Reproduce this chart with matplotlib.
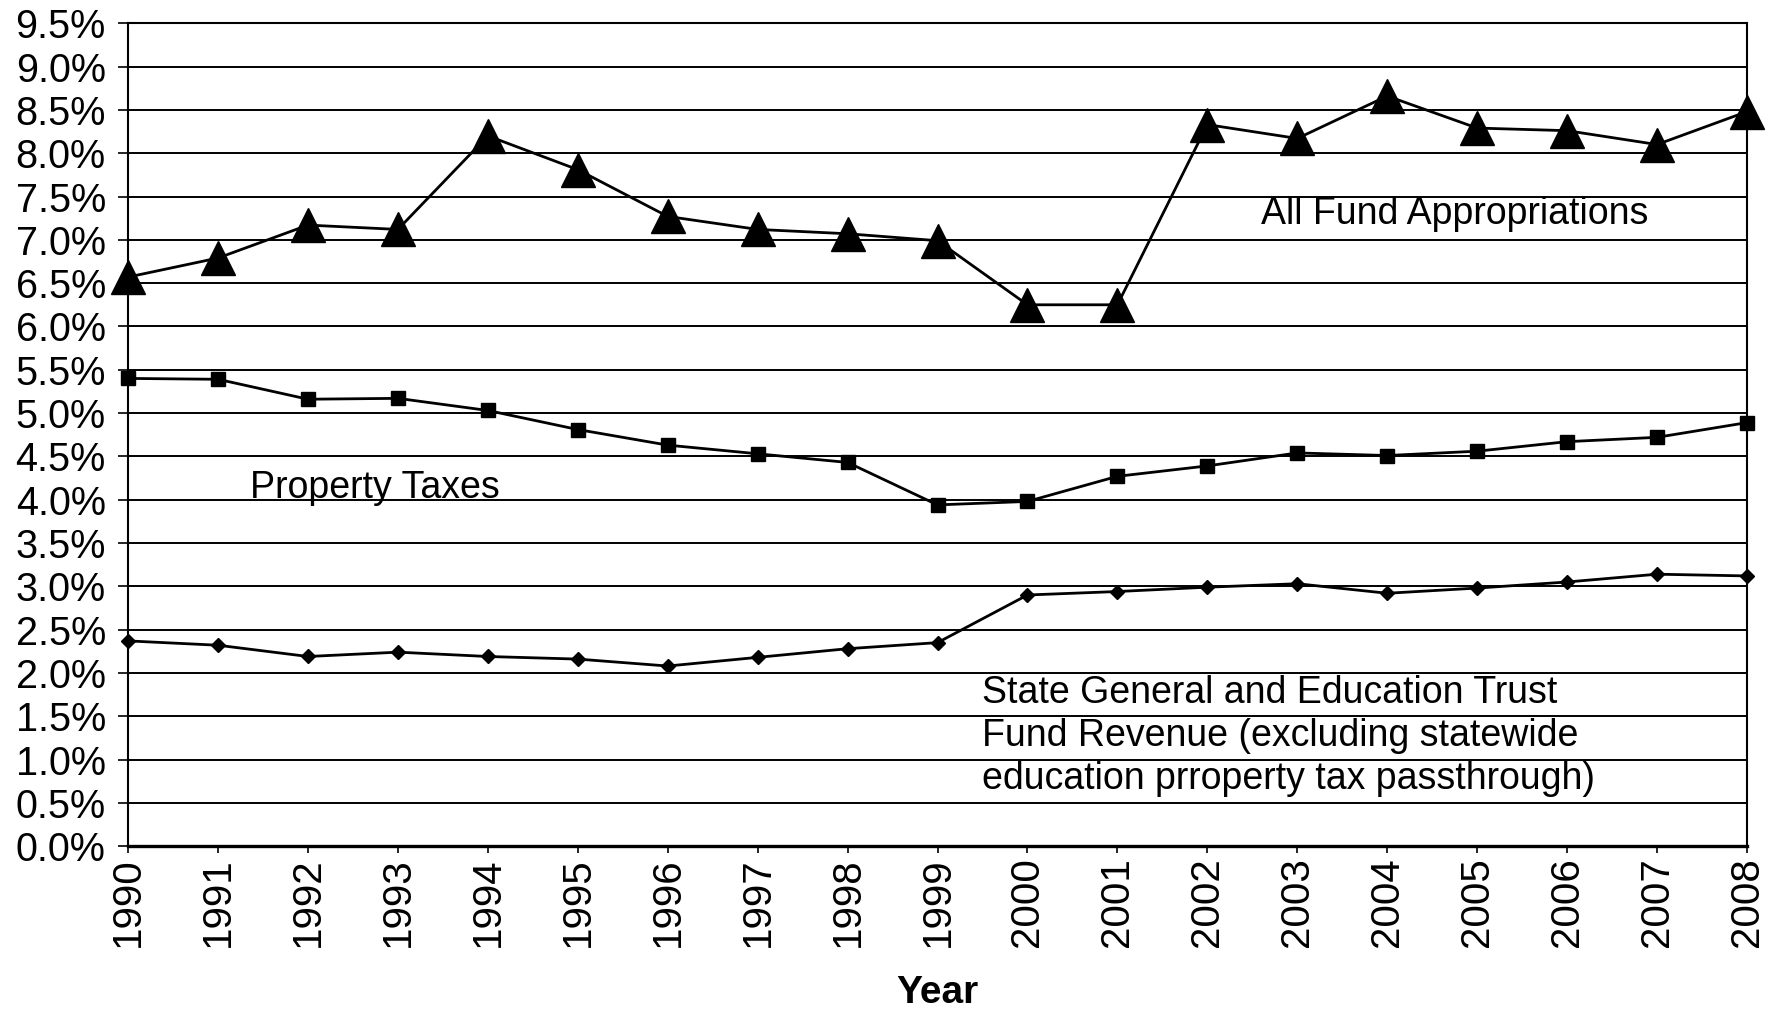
import matplotlib
matplotlib.use("Agg")
import matplotlib.pyplot as plt
import numpy as np
from matplotlib.ticker import FuncFormatter, MultipleLocator

# ================== datos ============== #
YEARS = list(range(1990, 2009))

ALL_FUND = [6.57, 6.79, 7.17, 7.12, 8.20, 7.81, 7.27, 7.12, 7.07, 6.99,
            6.25, 6.25, 8.33, 8.17, 8.66, 8.29, 8.26, 8.10, 8.48]

PROPERTY = [5.40, 5.39, 5.16, 5.17, 5.03, 4.81, 4.63, 4.53, 4.43, 3.94,
            3.98, 4.27, 4.39, 4.54, 4.51, 4.56, 4.67, 4.72, 4.89]

STATE_GEN = [2.37, 2.32, 2.19, 2.24, 2.19, 2.16, 2.08, 2.18, 2.28, 2.35,
             2.90, 2.94, 2.99, 3.03, 2.92, 2.98, 3.05, 3.14, 3.12]

LBL_ALL = "All Fund Appropriations"
LBL_PROP = "Property Taxes"
LBL_STATE = ("State General and Education Trust\n"
             "Fund Revenue (excluding statewide\n"
             "education prroperty tax passthrough)")

# ================== estilo ============== #
plt.rcParams["font.family"] = ["Liberation Sans", "DejaVu Sans"]

fig = plt.figure(figsize=(17.79, 10.11), dpi=100)
ax = fig.add_axes([0.072, 0.163, 0.910, 0.814])

kw = dict(color="black", lw=2.0, clip_on=False, zorder=3)
ax.plot(YEARS, ALL_FUND, marker="^", ms=25, **kw)
ax.plot(YEARS, PROPERTY, marker="s", ms=10.5, **kw)
ax.plot(YEARS, STATE_GEN, marker="D", ms=7.5, **kw)

ax.set_xlim(1990, 2008)
ax.set_ylim(0, 9.5)
ax.yaxis.set_major_locator(MultipleLocator(0.5))
ax.yaxis.set_major_formatter(FuncFormatter(lambda v, p: f"{v:.1f}%"))
ax.set_xticks(YEARS)
ax.set_xticklabels([str(y) for y in YEARS], rotation=90, fontsize=29)
ax.tick_params(axis="y", labelsize=28.5, length=7, width=1.2, pad=9, direction="out")
ax.tick_params(axis="x", length=5, width=1.2, pad=3, direction="out")

ax.grid(axis="y", color="black", lw=1.4, zorder=0)
for s in ax.spines.values():
    s.set_color("black")
    s.set_linewidth(1.5)
ax.spines["bottom"].set_linewidth(2.4)

ax.set_xlabel("Year", fontsize=28, fontweight="bold", labelpad=20)

# ================== etiquetas de series ============== #
ax.text(2002.6, 7.30, LBL_ALL, fontsize=27, va="center", ha="left")
ax.text(1991.36, 4.14, LBL_PROP, fontsize=27, va="center", ha="left")
ax.text(1999.49, 1.27, LBL_STATE, fontsize=27, va="center", ha="left", linespacing=1.25)

fig.savefig("out.png", dpi=100)
